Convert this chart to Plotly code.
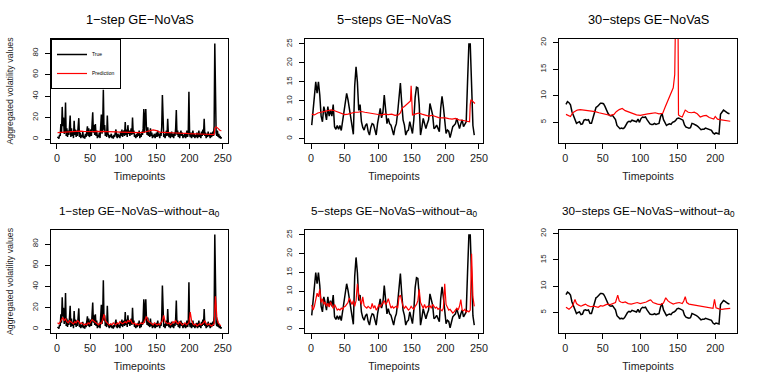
import plotly.graph_objects as go
from plotly.subplots import make_subplots

# ---------------- data ----------------
# 1-step aggregated volatility (true), timepoints 1..248
t_1step = list(range(1, 249))
true_1step = [
    1, 2, 0.5, 4, 3, 14, 6, 30, 12, 20,
    5, 9, 34, 3, 10, 2, 8, 4, 11, 22,
    2, 10, 3, 7, 1, 17, 4, 9, 2, 8,
    3, 10, 19.5, 2, 6, 1, 4, 2, 7, 1,
    3, 0.5, 5, 2, 6, 12, 3, 10, 2, 4,
    9, 3, 14, 25, 6, 13, 4, 14, 3, 8,
    1, 4, 2, 6, 1, 9, 23, 5, 12, 46,
    8, 13, 3, 6, 2, 22, 5, 3, 1, 4,
    2, 5, 1, 3, 0.5, 4, 2, 6, 9, 3,
    1, 5, 2, 4, 1, 7, 3, 9, 2, 6,
    8, 3, 16, 4, 9, 2, 13, 5, 8, 3,
    6, 10, 4, 20, 5, 8, 2, 4, 1, 5,
    2, 6, 3, 8, 1, 5, 2, 7, 4, 10,
    28, 6, 20, 28, 9, 4, 11, 3, 6, 2,
    10, 3, 6, 1, 4, 2, 5, 1, 3, 6,
    2, 8, 3, 5, 1, 6, 3, 11, 41, 7,
    2, 5, 1, 4, 8, 3, 19, 5, 2, 6,
    1, 4, 7, 2, 5, 1, 6, 3, 10, 27,
    4, 8, 2, 6, 1, 5, 8, 3, 6, 1,
    4, 2, 5, 1, 3, 8, 2, 6, 44, 5,
    2, 6, 1, 4, 8, 2, 5, 1, 4, 2,
    6, 1, 3, 8, 2, 5, 1, 7, 3, 9,
    4, 19, 3, 6, 1, 5, 2, 7, 3, 5,
    1, 6, 2, 4, 7, 3, 12, 89, 9, 6,
    3, 8, 2, 5, 1, 3, 0.5, 2,
]

# 1-step GE-NoVaS prediction
t_pred_1 = [1, 5, 10, 15, 20, 25, 30, 35, 40, 45,
            50, 55, 60, 65, 70, 75, 80, 85, 90, 95,
            100, 105, 110, 115, 120, 125, 130, 135, 140, 145,
            150, 155, 160, 165, 170, 175, 180, 185, 190, 195,
            200, 205, 210, 215, 220, 225, 230, 235, 237, 238,
            240, 242, 244, 246, 248]
pred_1 = [6.0, 6.2, 6.5, 6.8, 7.0, 7.3, 7.5, 7.4, 7.2, 6.9,
          6.8, 7.0, 7.2, 7.0, 7.3, 7.2, 7.0, 6.8, 6.7, 6.6,
          6.4, 6.5, 6.3, 6.4, 6.2, 6.0, 6.2, 7.0, 8.2, 8.6,
          8.0, 6.5, 6.3, 6.0, 5.8, 6.0, 5.7, 5.5, 5.6, 5.3,
          5.0, 5.2, 4.9, 4.8, 4.7, 4.5, 4.4, 4.2, 4.3, 10.0,
          11.5, 10.5, 9.0, 8.0, 7.8]

# 1-step GE-NoVaS-without-a0 prediction (every 2nd timepoint)
t_pred_1_noa0 = list(range(1, 249, 2))
pred_1_noa0 = [
    6, 5, 7, 9, 11, 8, 10, 7, 6, 8,
    7, 6, 5, 7, 6, 8, 7, 5, 6, 5,
    4, 5, 4, 6, 5, 7, 9, 8, 7, 6,
    5, 4, 6, 5, 9, 14, 8, 6, 5, 4,
    5, 4, 6, 5, 4, 6, 5, 7, 6, 5,
    6, 7, 6, 8, 7, 9, 6, 5, 6, 4,
    5, 4, 5, 6, 5, 6, 9, 12, 8, 7,
    6, 5, 4, 6, 5, 4, 5, 4, 6, 8,
    13, 7, 6, 5, 6, 4, 5, 7, 6, 8,
    6, 5, 7, 5, 4, 5, 6, 4, 5, 6,
    16, 8, 5, 4, 5, 3, 4, 5, 4, 5,
    6, 8, 5, 4, 5, 4, 3, 4, 5, 31,
    12, 6, 4, 3,
]

# 5-step aggregated volatility (true), every 2nd timepoint
t_5step = list(range(1, 245, 2))
true_5step = [
    3.6, 8, 12.5, 15, 12, 15, 11.5, 6, 4.5, 8.5,
    7, 5, 8.5, 6, 7.5, 6, 9, 3.2, 2.5, 3.5,
    2.5, 3.5, 2.2, 4.5, 7.6, 10, 12, 10.3, 8, 5.5,
    3, 1.2, 14, 19, 15, 7.5, 9, 4.5, 3, 2.3,
    3.5, 4, 2, 1, 3, 4, 3.8, 2, 1, 4,
    6, 8, 5.5, 7, 11.5, 7, 4, 5.4, 4, 3.6,
    2, 1, 3, 4, 7, 11, 14.7, 9.4, 5, 3.6,
    1, 2, 2.3, 4.5, 3, 1.4, 5, 11, 13.6, 13.4,
    9, 1, 3, 5.4, 4, 2.7, 4, 5, 9.3, 8,
    6.3, 2.7, 3, 3.6, 2.5, 1.9, 8, 11.2, 8.5, 4,
    1.4, 2.3, 2, 0.3, 2, 3.2, 3.6, 4, 5.4, 4,
    2.7, 4, 5, 3.2, 4, 4.5, 15, 25, 25, 12,
    3.5, 1,
]

# 5-steps GE-NoVaS prediction
t_pred_5 = [1, 5, 10, 15, 20, 25, 30, 35, 40, 45,
            50, 55, 60, 65, 70, 75, 80, 85, 90, 95,
            100, 105, 110, 115, 120, 125, 130, 133, 136, 139,
            142, 145, 147, 148, 149, 150, 151, 155, 160, 165,
            170, 175, 180, 185, 190, 195, 200, 205, 210, 215,
            220, 225, 230, 235, 236, 237, 238, 240, 242, 244]
pred_5 = [6.5, 6.3, 6.8, 7.0, 7.2, 7.5, 7.6, 7.4, 7.0, 6.6,
          6.4, 6.5, 6.8, 7.0, 7.0, 7.2, 7.0, 6.8, 6.8, 6.6,
          6.4, 6.3, 6.5, 6.4, 6.5, 6.2, 6.3, 6.8, 8.2, 8.5,
          9.0, 9.5, 9.8, 10.0, 14.0, 6.4, 6.3, 6.5, 6.8, 6.5,
          6.3, 6.0, 6.2, 5.8, 5.6, 5.5, 5.5, 5.3, 5.2, 5.4,
          5.0, 4.9, 4.8, 4.6, 4.5, 9.0, 10.3, 10.0, 9.7, 9.3]

# 5-steps GE-NoVaS-without-a0 prediction (every 2nd timepoint)
t_pred_5_noa0 = list(range(1, 245, 2))
pred_5_noa0 = [
    6.4, 5.0, 6.0, 7.5, 9.5, 8.5, 10.5, 7.0, 8.0, 6.5,
    7.2, 6.0, 6.8, 5.8, 7.2, 6.2, 5.5, 6.5, 5.5, 5.0,
    5.3, 5.0, 5.5, 5.2, 5.8, 6.0, 6.5, 7.0, 8.2, 7.0,
    6.5, 7.5, 6.0, 7.5, 12.0, 9.0, 8.0, 6.5, 8.5, 6.2,
    5.8, 5.5, 6.0, 5.5, 5.3, 6.8, 5.5, 6.2, 5.0, 5.5,
    6.5, 5.8, 6.5, 7.0, 7.5, 6.5, 7.0, 8.0, 6.5, 5.5,
    6.0, 5.5, 5.8, 6.0, 5.5, 8.5, 9.0, 7.5, 6.0, 5.5,
    6.0, 5.5, 5.0, 5.3, 6.0, 5.5, 5.2, 6.0, 6.5, 7.5,
    10.5, 7.0, 6.0, 5.5, 6.5, 5.5, 6.0, 5.8, 6.2, 5.5,
    6.5, 6.0, 5.5, 5.8, 5.2, 5.5, 5.0, 4.8, 5.5, 12.0,
    6.5, 5.5, 5.0, 5.2, 4.5, 4.2, 4.5, 5.0, 5.5, 5.0,
    6.0, 7.8, 5.0, 4.8, 5.2, 4.5, 4.8, 4.5, 5.0, 20.0,
    8.5, 6.0,
]

# 30-step aggregated volatility (true), every 2nd timepoint
t_30step = list(range(1, 221, 2))
true_30step = [
    8.4, 8.9, 8.7, 8.3, 7.0, 6.2, 5.3, 4.8, 5.0, 5.1,
    4.6, 4.7, 5.4, 5.5, 5.4, 5.5, 4.8, 4.8, 5.8, 7.0,
    7.8, 8.0, 8.4, 8.6, 8.6, 8.5, 8.0, 7.2, 6.7, 6.3,
    6.2, 6.3, 6.0, 5.5, 4.4, 4.0, 3.8, 3.9, 3.8, 4.0,
    4.6, 5.0, 5.2, 5.1, 5.4, 5.3, 5.2, 5.1, 5.6, 5.0,
    5.7, 6.0, 5.9, 6.0, 5.5, 5.0, 4.7, 4.6, 4.6, 4.8,
    4.6, 4.7, 4.8, 6.0, 6.7, 5.5, 4.8, 4.4, 4.6, 4.7,
    4.6, 5.0, 5.1, 5.3, 5.7, 5.8, 5.7, 5.6, 5.4, 4.5,
    4.1, 4.0, 3.9, 4.0, 4.8, 4.7, 4.6, 4.4, 4.2, 3.8,
    3.6, 3.7, 3.7, 3.9, 3.8, 3.7, 3.7, 3.5, 3.0, 2.8,
    3.0, 2.9, 2.8, 6.5, 7.0, 7.3, 7.1, 6.8, 6.7, 6.6,
]

# 30-steps GE-NoVaS prediction (spike runs off the top of the panel)
t_pred_30 = [1, 4, 7, 10, 13, 16, 20, 25, 30, 35,
             40, 45, 50, 55, 60, 65, 68, 72, 76, 80,
             85, 90, 95, 100, 105, 110, 115, 120, 125, 130,
             133, 136, 139, 142, 144, 146, 147, 148, 150, 151,
             153, 156, 160, 164, 168, 172, 176, 180, 184, 188,
             192, 196, 198, 200, 203, 206, 210, 214, 218, 220]
pred_30 = [6.5, 6.3, 6.1, 6.8, 7.1, 7.3, 7.4, 7.3, 7.2, 7.2,
           7.0, 6.8, 6.6, 6.4, 6.3, 6.5, 7.0, 7.4, 7.6, 7.2,
           6.9, 6.6, 6.4, 6.3, 6.5, 6.6, 6.7, 6.8, 6.6, 6.7,
           7.8, 8.8, 9.5, 10.8, 11.5, 14.0, 19.0, 35.0, 35.0, 6.4,
           6.2, 6.0, 7.3, 6.9, 6.8, 6.9, 6.6, 6.0, 6.2, 6.3,
           5.9, 5.7, 5.6, 6.1, 5.6, 5.5, 5.4, 5.3, 5.2, 5.2]

# 30-steps GE-NoVaS-without-a0 prediction
t_pred_30_noa0 = [1, 3, 5, 8, 10, 13, 15, 18, 21, 24,
                  27, 30, 34, 38, 41, 44, 47, 50, 53, 56,
                  60, 64, 67, 70, 72, 74, 77, 80, 84, 88,
                  92, 96, 100, 104, 108, 112, 114, 117, 120, 123,
                  127, 131, 134, 137, 140, 144, 148, 152, 156, 158,
                  160, 162, 165, 169, 173, 177, 181, 185, 189, 193,
                  197, 199, 201, 205, 209, 213, 217, 220]
pred_30_noa0 = [6.0, 5.8, 5.6, 6.0, 6.3, 7.5, 6.7, 6.4, 6.2, 6.4,
                6.6, 6.3, 6.1, 6.2, 6.1, 6.0, 6.3, 6.2, 6.4, 6.6,
                6.5, 6.8, 6.9, 8.3, 7.2, 7.0, 6.9, 7.0, 6.7, 6.6,
                6.8, 6.9, 6.7, 6.8, 7.0, 7.3, 7.4, 6.9, 6.7, 6.6,
                6.5, 6.8, 7.8, 7.2, 6.9, 6.6, 6.8, 6.9, 6.7, 7.2,
                8.0, 6.9, 6.6, 6.5, 6.4, 6.3, 6.1, 6.0, 5.9, 5.8,
                5.8, 7.5, 5.9, 5.7, 5.6, 5.7, 5.8, 5.8]

titles = [
    "1\u2212step GE\u2212NoVaS",
    "5\u2212steps GE\u2212NoVaS",
    "30\u2212steps GE\u2212NoVaS",
    "1\u2212step GE\u2212NoVaS\u2212without\u2212a<sub>0</sub>",
    "5\u2212steps GE\u2212NoVaS\u2212without\u2212a<sub>0</sub>",
    "30\u2212steps GE\u2212NoVaS\u2212without\u2212a<sub>0</sub>",
]

# ---------------- figure ----------------
W, H = 763, 382
FONT = "Liberation Sans, Arial, Helvetica, sans-serif"

panels = [
    (1, 1, t_1step, true_1step, t_pred_1, pred_1),
    (1, 2, t_5step, true_5step, t_pred_5, pred_5),
    (1, 3, t_30step, true_30step, t_pred_30, pred_30),
    (2, 1, t_1step, true_1step, t_pred_1_noa0, pred_1_noa0),
    (2, 2, t_5step, true_5step, t_pred_5_noa0, pred_5_noa0),
    (2, 3, t_30step, true_30step, t_pred_30_noa0, pred_30_noa0),
]

# pixel boxes of the panels in the reference
col_px = [(51, 228), (305, 483), (559, 737)]
row_px = [(39, 143), (230, 333)]
title_y_px = [20, 211]

x_ranges = [[-8.9, 257.9], [-9, 256], [-8.3, 229]]
y_ranges = [[-3.6, 93.2], [-1.1, 26.3], [1.1, 20.7]]
x_ticks = [[0, 50, 100, 150, 200, 250], [0, 50, 100, 150, 200, 250], [0, 50, 100, 150, 200]]
y_ticks = [[0, 20, 40, 60, 80], [0, 5, 10, 15, 20, 25], [5, 10, 15, 20]]

fig = make_subplots(rows=2, cols=3)

for i, (r, c, tt, yt, tp, yp) in enumerate(panels):
    first = (i == 0)
    fig.add_trace(go.Scatter(x=tt, y=yt, mode="lines", name="True",
                             line=dict(color="black", width=1.5),
                             showlegend=first), row=r, col=c)
    fig.add_trace(go.Scatter(x=tp, y=yp, mode="lines", name="Prediction",
                             line=dict(color="#ff0000", width=1.2),
                             showlegend=first), row=r, col=c)

    x0, x1 = col_px[c - 1]
    y0, y1 = row_px[r - 1]
    fig.update_xaxes(domain=[x0 / W, x1 / W], range=x_ranges[c - 1],
                     tickvals=x_ticks[c - 1], row=r, col=c)
    fig.update_yaxes(domain=[1 - y1 / H, 1 - y0 / H], range=y_ranges[c - 1],
                     tickvals=y_ticks[c - 1], row=r, col=c)

    fig.add_annotation(text=titles[i], xref="paper", yref="paper",
                       x=(x0 + x1) / 2 / W, y=1 - title_y_px[r - 1] / H,
                       xanchor="center", yanchor="middle", showarrow=False,
                       font=dict(size=12.8 if r == 1 else 11.7, color="black", family=FONT))

axis_style = dict(showline=True, linecolor="black", linewidth=1, mirror=True,
                  ticks="outside", ticklen=5, tickcolor="black", tickwidth=1,
                  showgrid=False, zeroline=False, automargin=False)

fig.update_xaxes(**axis_style, tickfont=dict(size=10.8, color="#222", family=FONT),
                 title=dict(text="Timepoints", standoff=9,
                            font=dict(size=10.6, color="#222", family=FONT)))
fig.update_yaxes(**axis_style, tickangle=-90, ticklabelstandoff=4,
                 tickfont=dict(size=8, color="#222", family=FONT))
for r in (1, 2):
    fig.update_yaxes(title=dict(text="Aggregated volatility values", standoff=15,
                                font=dict(size=8.8, color="#222", family=FONT)),
                     row=r, col=1)

fig.update_layout(
    width=W, height=H,
    margin=dict(l=0, r=0, t=0, b=0),
    plot_bgcolor="white",
    paper_bgcolor="white",
    font=dict(family=FONT, color="black"),
    legend=dict(x=51 / W, y=1 - 39 / H, xanchor="left", yanchor="top",
                bgcolor="white", bordercolor="black", borderwidth=1,
                font=dict(size=5, family=FONT), itemwidth=30,
                tracegroupgap=0),
)

# drop the browser's default page margin so the figure sits at (0, 0); no modebar
fig.write_html("out.html", config={"displayModeBar": False},
               post_script="document.body.style.margin = '0px';")
